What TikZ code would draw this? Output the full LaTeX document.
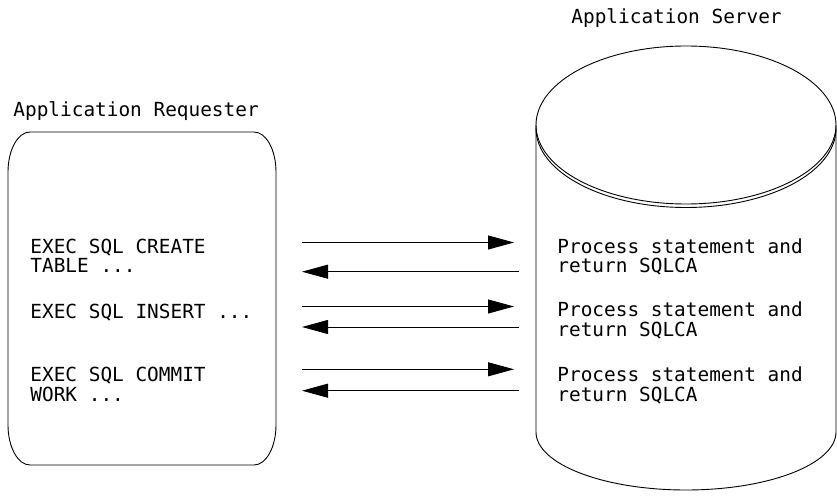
\documentclass[tikz,border=0pt]{standalone}
\usepackage{fontspec}
\setmonofont{DejaVu Sans Mono}
\usetikzlibrary{arrows.meta,positioning}

\begin{document}
\begin{tikzpicture}[x=1pt,y=1pt,line width=0.9pt,>={Triangle[length=26pt,width=14pt]},
	every node/.style={inner sep=0pt,font=\ttfamily\fontsize{19.4}{20}\selectfont},
	txt/.style={anchor=base west,align=left}]
			\useasboundingbox (0,0) rectangle (837,501);

			% requester
			\draw (8,329) arc (180:90:22 and 40) -- (254,369) arc (90:0:22 and 40)
				-- (276,76) arc (0:-90:22 and 40) -- (30,36) arc (270:180:22 and 40) -- cycle;
			\node[txt] (req) at (13,384) {Application Requester};

			% server
			\draw (686,376) ellipse (150 and 79);
			\draw (536,372.5) arc (180:360:150 and 79);
			\draw (536,376) -- (536,69) arc (180:360:150 and 58) -- (836,376);
			\node[txt] (srv) at (571,477) {Application Server};

			% base = last line
			\node[txt] (c1) at (30,228) {EXEC SQL CREATE\\TABLE ...};
			\node[txt] (c2) at (30,183) {EXEC SQL INSERT ...};
			\node[txt] (c3) at (30,100) {EXEC SQL COMMIT\\WORK ...};

			\node[txt] (s1) at (557,228) {Process statement and\\return SQLCA};
			\node[txt] (s2) at (557,165) {Process statement and\\return SQLCA};
			\node[txt] (s3) at (557,100) {Process statement and\\return SQLCA};

			\coordinate (q1) at (302,258.5); \coordinate (p1) at (514,258.5);
			\coordinate (q2) at (302,194.5); \coordinate (p2) at (514,194.5);
			\coordinate (q3) at (302,131.7); \coordinate (p3) at (514,131.7);
			\coordinate (a1) at (519,229.3); \coordinate (b1) at (302,229.3);
			\coordinate (a2) at (519,174);   \coordinate (b2) at (302,174);
			\coordinate (a3) at (519,110.3); \coordinate (b3) at (302,110.3);

			\path[->] (q1) edge (p1)
					  (a1) edge (b1)
					  (q2) edge (p2)
					  (a2) edge (b2)
					  (q3) edge (p3)
					  (a3) edge (b3);

\end{tikzpicture}
\end{document}
